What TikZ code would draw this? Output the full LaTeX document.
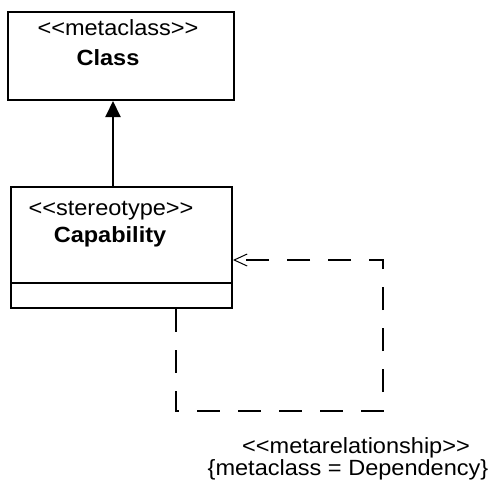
\documentclass[tikz,border=0pt]{standalone}
\usepackage{fontspec}
\setmainfont{Liberation Sans}[FakeStretch=1.07, Ligatures=TeXOff]
\usetikzlibrary{arrows.meta}
\tikzset{
  box/.style={draw=black, line width=2pt, rectangle, inner sep=0pt, anchor=north west},
  lbl/.style={inner sep=0pt, anchor=base, font=\fontsize{22}{25}\selectfont},
  blbl/.style={lbl, font=\fontsize{22}{25}\selectfont\bfseries},
  gen/.style={line width=2pt, -{Triangle[width=15pt,length=16pt]}},
  dep/.style={line width=2pt, dash pattern=on 23pt off 18pt, -{Straight Barb[length=13pt,width=12pt,line width=1pt]}}
}
\begin{document}
\begin{tikzpicture}[x=1pt,y=-1pt]
\useasboundingbox (0,0) rectangle (494,480);
% Class box
\node[box, minimum width=226pt, minimum height=88pt] (cls) at (7,11) {};
\node[lbl] (clsst) at (118,35) {<{}<metaclass>{}>};
\node[blbl] (clsname) at (108,65) {Class};
% Capability box
\node[box, minimum width=221pt, minimum height=121pt] (cap) at (10,186) {};
\draw[line width=2pt] (10,283) -- (231,283);
\node[lbl] (capst) at (111,215) {<{}<stereotype>{}>};
\node[blbl] (capname) at (110,242) {Capability};
% generalization
\draw[gen] (cap.north -| 113,0) -- (cls.south -| 113,0);
% dependency loop
\coordinate (d1) at (176,411);
\coordinate (d2) at (383,411);
\coordinate (d3) at (383,260);
\draw[dep] (cap.south -| d1) -- (d1) -- (d2) -- (d3) -- (cap.east |- d3);
\node[lbl] (rel1) at (356,453) {<{}<metarelationship>{}>};
\node[lbl] (rel2) at (348,475) {\{metaclass = Dependency\}};
\end{tikzpicture}
\end{document}
